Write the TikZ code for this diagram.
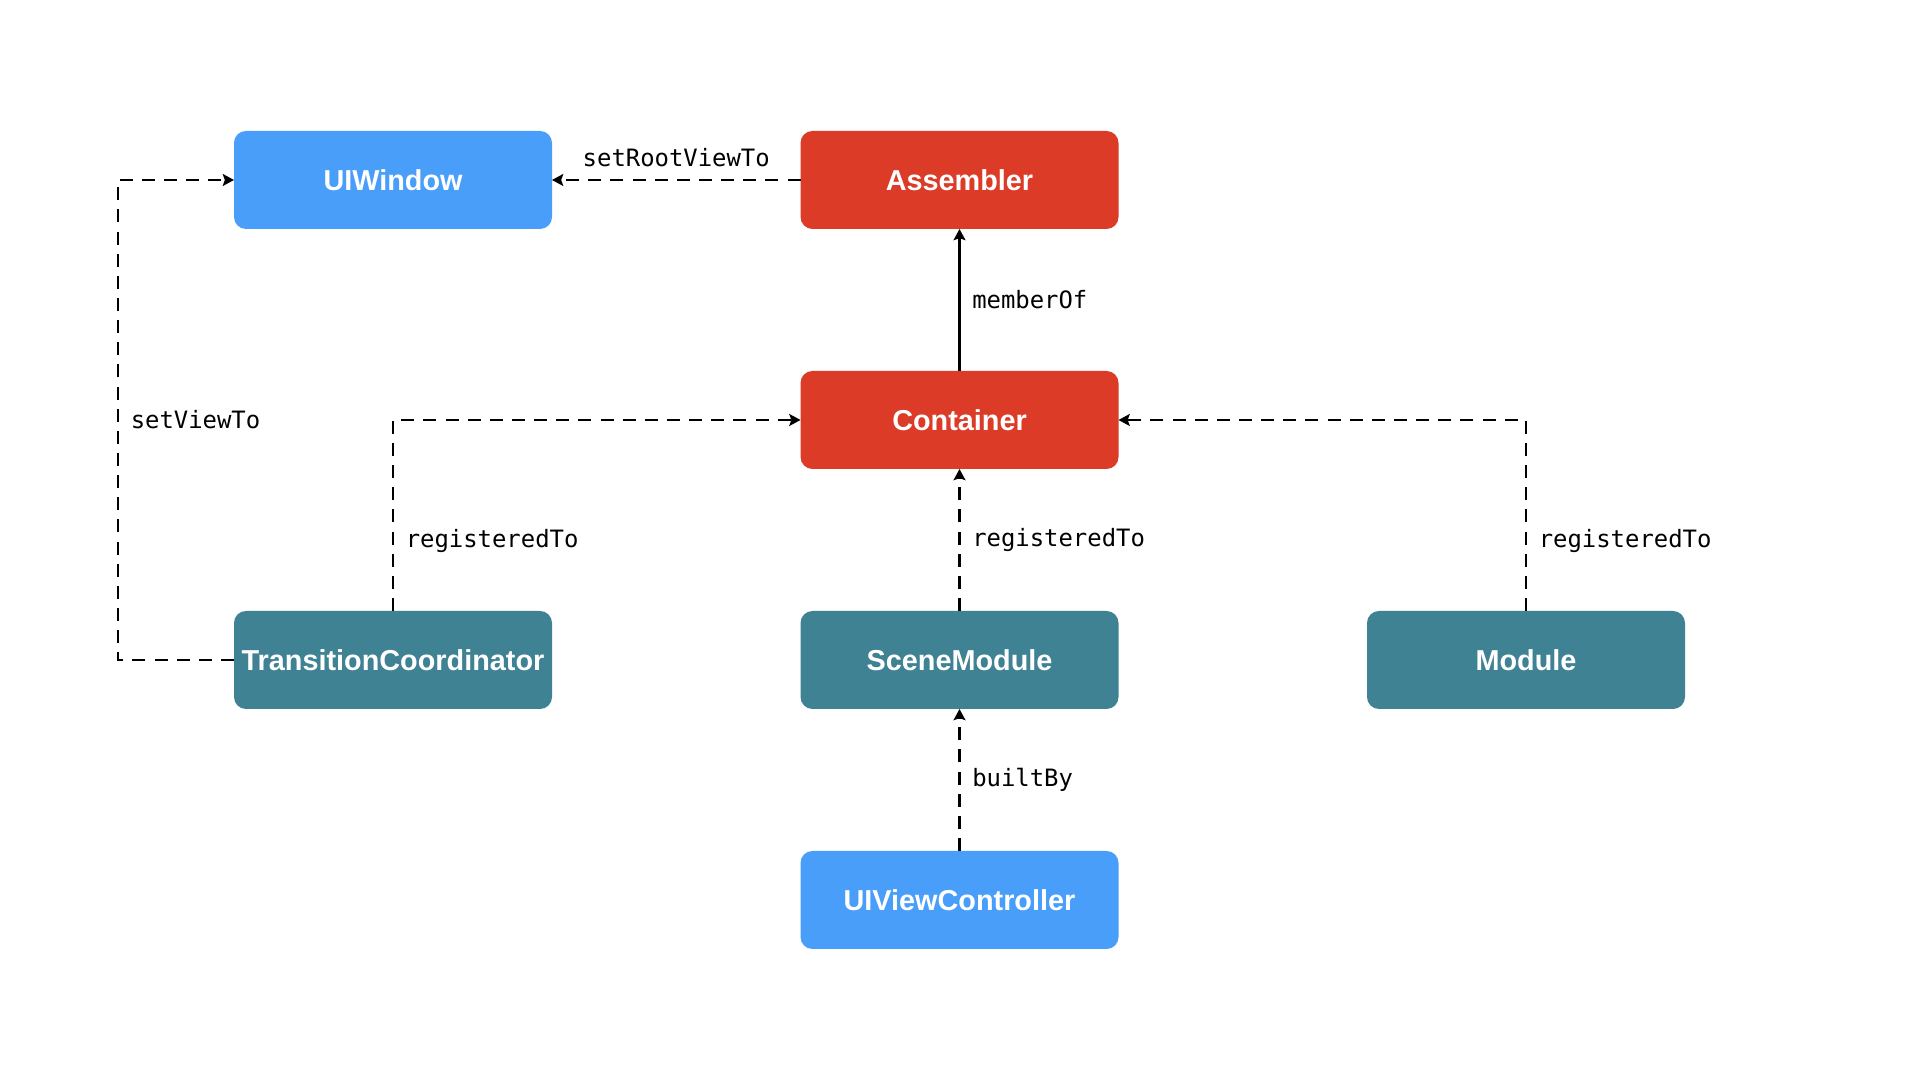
\documentclass[tikz,border=0pt]{standalone}
\usepackage{fontspec}
\usetikzlibrary{positioning,arrows.meta}
\newfontfamily\boxfont{Liberation Sans}
\newfontfamily\relfont{DejaVu Sans Mono}
\definecolor{appleblue}{RGB}{72,158,248}
\definecolor{applered}{RGB}{220,59,39}
\definecolor{appleteal}{RGB}{63,130,148}

\begin{document}
\begin{tikzpicture}[node distance=1.42cm and 2.485cm,
                    line width=0.6pt,
                    box/.style={rounded corners=3.4pt,minimum width=3.18cm,minimum height=0.98cm,
                                inner xsep=1pt,outer sep=0pt,
                                text=white,font=\boxfont\bfseries\fontsize{8.2}{10}\selectfont},
                    view/.style={box,fill=appleblue},
                    core/.style={box,fill=applered},
                    module/.style={box,fill=appleteal},
                    rel/.style={font=\relfont\fontsize{6.8}{8}\selectfont,text=black},
                    link/.style={-{Stealth[length=3.2pt,width=3.4pt,inset=0.6pt]}},
                    dashlink/.style={link,dash pattern=on 3.7pt off 2.6pt}]
        \useasboundingbox (0,0) rectangle (19.2,10.8);

        % Define vertices
        \node[core] (assembler) at (9.595,9.0) {Assembler};
        \node[view, left=of assembler] (uiwindow) {UIWindow};
        \node[core, below=of assembler] (container) {Container};
        \node[module, below=of container] (scene) {SceneModule};
        \node[module, left=of scene] (transition) {TransitionCoordinator};
        \node[module, right=of scene] (module) {Module};
        \node[view, below=of scene] (viewcontroller) {UIViewController};

        % Define edges
        \draw[dashlink] (assembler) -- node[rel,above] {setRootViewTo} (uiwindow);
        \draw[link] (container) -- node[rel,right] {memberOf} (assembler);
        \draw[dashlink] (transition.north) |- node[rel,right,pos=0.184] {registeredTo} (container.west);
        \draw[dashlink] (scene) -- node[rel,right] {registeredTo} (container);
        \draw[dashlink] (module.north) |- node[rel,right,pos=0.184] {registeredTo} (container.east);
        \draw[dashlink] (transition.west) -- ++(-1.16,0) |- node[rel,right,pos=0.25] {setViewTo} (uiwindow.west);
        \draw[dashlink] (viewcontroller) -- node[rel,right] {builtBy} (scene);
\end{tikzpicture}
\end{document}
